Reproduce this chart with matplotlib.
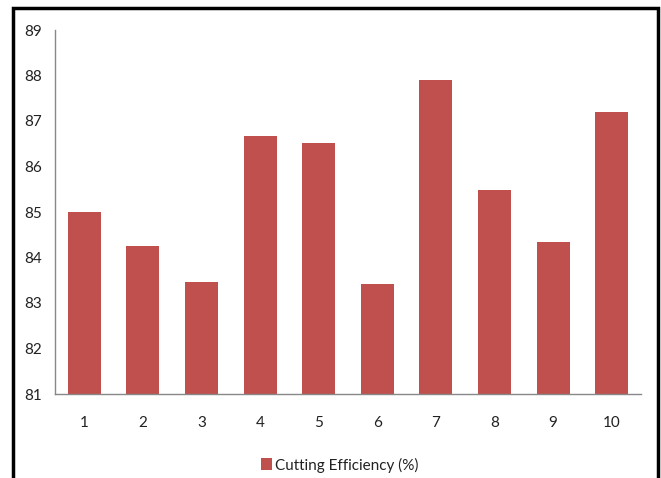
import matplotlib
matplotlib.use("Agg")
import matplotlib.pyplot as plt
from matplotlib.patches import Rectangle

categories = ["1", "2", "3", "4", "5", "6", "7", "8", "9", "10"]
efficiency = [85.0, 84.25, 83.47, 86.68, 86.51, 83.42, 87.90, 85.48, 84.33, 87.19]
yticks = [81, 82, 83, 84, 85, 86, 87, 88, 89]
series_name = "Cutting Efficiency (%)"

plt.rcParams['font.family'] = ['Lato', 'DejaVu Sans']

W, H = 661, 478
fig = plt.figure(figsize=(W / 100, H / 100), dpi=100)
ax = fig.add_axes([55 / W, 1 - 394 / H, (641 - 55) / W, (394 - 30) / H])

x = list(range(len(categories)))
ax.bar(x, efficiency, width=0.56, color="#C0504D", label=series_name, zorder=2)
ax.set_xlim(-0.5, len(categories) - 0.5)
ax.set_ylim(81, 89)
ax.set_xticks(x)
ax.set_xticklabels(categories)
ax.set_yticks(yticks)
ax.set_yticklabels([str(t) for t in yticks])
ax.tick_params(axis='both', length=0, labelsize=11, colors="#222222")
ax.tick_params(axis='x', pad=16)
ax.tick_params(axis='y', pad=9)
for s in ["top", "right"]:
    ax.spines[s].set_visible(False)
for s in ["left", "bottom"]:
    ax.spines[s].set_color("#888888")
    ax.spines[s].set_linewidth(1.0)

fig.legend(loc="center", bbox_to_anchor=(340 / W, 1 - 465 / H), frameon=False,
           fontsize=11, handlelength=0.7, handleheight=0.8, handletextpad=0.2,
           labelcolor="#222222")

border = Rectangle((13 / W, -0.05), (658 - 13) / W, 1.05 - 7.5 / H,
                   transform=fig.transFigure, fill=False, edgecolor="black",
                   linewidth=2.5, zorder=10)
fig.patches.append(border)

fig.savefig("out.png", dpi=100)
